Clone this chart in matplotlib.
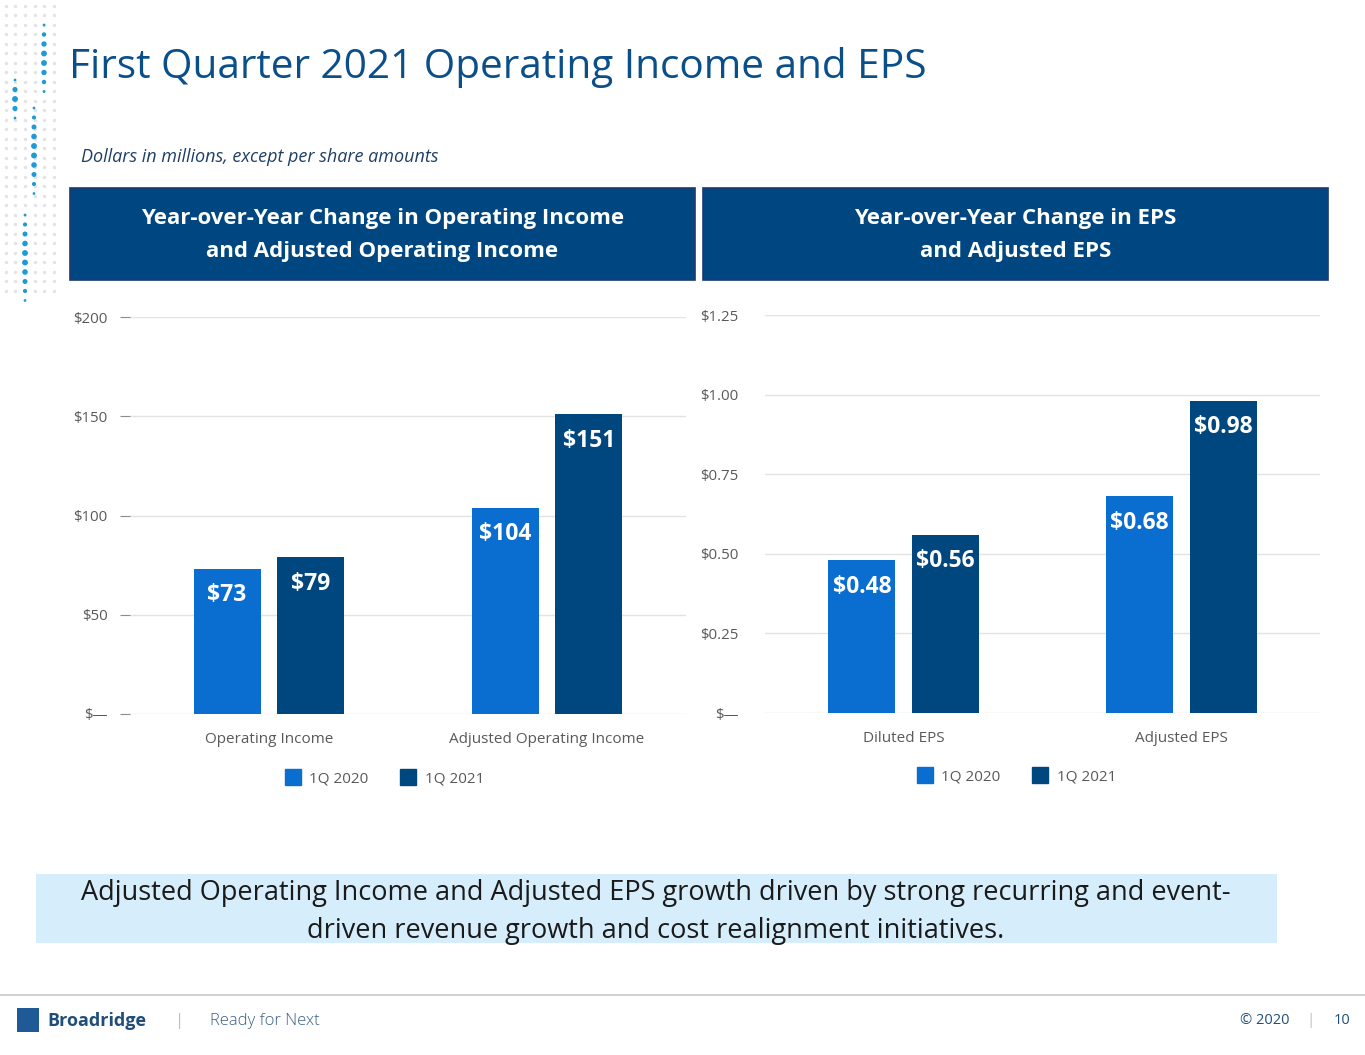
import numpy as np
import matplotlib
matplotlib.use("Agg")
import matplotlib.pyplot as plt
from matplotlib.patches import Rectangle
from matplotlib.lines import Line2D

plt.rcParams['font.family'] = ['Open Sans', 'DejaVu Sans']

# data
oi_categories = ['Operating Income', 'Adjusted Operating Income']
oi_2020 = [73, 104]
oi_2021 = [79, 151]
oi_ticks = [0, 50, 100, 150, 200]
oi_ticklabels = ['$\u2014', '$50', '$100', '$150', '$200']

eps_categories = ['Diluted EPS', 'Adjusted EPS']
eps_2020 = [0.48, 0.68]
eps_2021 = [0.56, 0.98]
eps_ticks = [0, 0.25, 0.5, 0.75, 1.0, 1.25]
eps_ticklabels = ['$\u2014', '$0.25', '$0.50', '$0.75', '$1.00', '$1.25']

series_names = ['1Q 2020', '1Q 2021']

c_light = '#0a6ed1'
c_dark = '#00467f'
navy = '#004680'
txt_gray = '#595959'

W, H = 1365, 1055
fig = plt.figure(figsize=(W / 100, H / 100), dpi=100)


def fx(px):
    return px / W


def fy(py):
    return 1 - py / H


# title + subtitle
fig.text(fx(69), fy(68), 'First Quarter 2021 Operating Income and EPS', fontsize=29.2,
         color='#0b4f8a', va='center', ha='left')
fig.text(fx(81), fy(157), 'Dollars in millions, except per share amounts', fontsize=13,
         style='italic', color='#1f3f66', va='center', ha='left')

# decorative dot columns top-left
dot_ax = fig.add_axes([0, fy(310), fx(62), fy(0) - fy(310)])
dot_ax.set_xlim(0, 62)
dot_ax.set_ylim(310, 0)
dot_ax.axis('off')
for x in [6, 15, 25, 35, 44, 54]:
    ys = np.arange(6, 300, 9.5)
    dot_ax.scatter(np.full(len(ys), x), ys, s=6, color='#e3e3e3', lw=0)
blue_cols = [(44, 25, 100), (15, 80, 120), (34, 108, 200), (25, 215, 310)]
for x, y0, y1 in blue_cols:
    ys = np.arange(y0, y1, 9.5)
    sizes = 4 + 14 * np.sin(np.linspace(0, np.pi, len(ys)))
    dot_ax.scatter(np.full(len(ys), x), ys, s=sizes, color='#1e9bd7', lw=0)

# header boxes
for (x0, x1), lines in [((70, 695), 'Year-over-Year Change in Operating Income\nand Adjusted Operating Income'),
                        ((703, 1328), 'Year-over-Year Change in EPS\nand Adjusted EPS')]:
    fig.patches.append(Rectangle((fx(x0), fy(280)), fx(x1 - x0), fy(188) - fy(280),
                                 transform=fig.transFigure, facecolor=navy,
                                 edgecolor='#1d3a6e', lw=1.2))
    fig.text(fx((x0 + x1) / 2), fy(235), lines, ha='center', va='center', color='white',
             fontsize=16, fontweight='bold', linespacing=1.8)


def bar_panel(rect, cats, v1, v2, ticks, ticklabels, fmt, show_ticks, leg_x, leg_y):
    ax = fig.add_axes(rect)
    x = np.arange(len(cats))
    off = 0.151
    w = 0.241
    b1 = ax.bar(x - off, v1, w, color=c_light, zorder=3)
    b2 = ax.bar(x + off, v2, w, color=c_dark, zorder=3)
    for bars, vals in [(b1, v1), (b2, v2)]:
        for b, v in zip(bars, vals):
            ax.annotate(fmt(v), (b.get_x() + b.get_width() / 2, v), xytext=(0, -19),
                        textcoords='offset points', ha='center', va='center',
                        color='white', fontsize=16.5, fontweight='bold', zorder=4)
    ax.set_xlim(-0.5, 1.5)
    ax.set_ylim(ticks[0], ticks[-1])
    ax.set_yticks(ticks)
    ax.set_yticklabels(ticklabels)
    ax.set_xticks(x)
    ax.set_xticklabels(cats)
    ax.grid(axis='y', color='#e3e3e3', lw=1, zorder=0)
    for s in ax.spines.values():
        s.set_visible(False)
    ax.tick_params(axis='x', length=0, pad=13, labelsize=11, labelcolor=txt_gray)
    if show_ticks:
        ax.tick_params(axis='y', length=7, color='#8c8c8c', pad=9, labelsize=10.8,
                       labelcolor=txt_gray)
    else:
        ax.tick_params(axis='y', length=0, pad=19, labelsize=10.8, labelcolor=txt_gray)
    handles = [Line2D([], [], marker='s', ls='', markersize=12, color=c)
               for c in (c_light, c_dark)]
    fig.legend(handles, series_names, loc='center', bbox_to_anchor=(fx(leg_x), fy(leg_y)),
               ncol=2, frameon=False, fontsize=11, labelcolor=txt_gray,
               handletextpad=0.5, columnspacing=2.0, handlelength=1.2)
    return ax


bar_panel([fx(130), fy(714), fx(556), fy(317) - fy(714)], oi_categories, oi_2020, oi_2021,
          oi_ticks, oi_ticklabels, lambda v: f'${v:.0f}', True, 384, 779)
bar_panel([fx(765), fy(713), fx(555), fy(315) - fy(713)], eps_categories, eps_2020, eps_2021,
          eps_ticks, eps_ticklabels, lambda v: f'${v:.2f}', False, 1016, 777)

# bottom banner
fig.patches.append(Rectangle((fx(36), fy(943)), fx(1241), fy(874) - fy(943),
                             transform=fig.transFigure, facecolor='#d6edfb', edgecolor='none'))
fig.text(fx(656), fy(912),
         'Adjusted Operating Income and Adjusted EPS growth driven by strong recurring and event-\n'
         'driven revenue growth and cost realignment initiatives.',
         ha='center', va='center', fontsize=19.5, color='#1a1a1a', linespacing=1.45)

# footer
fig.add_artist(Line2D([0, 1], [fy(995), fy(995)], color='#c8c8c8', lw=1.2,
                      transform=fig.transFigure))
fig.patches.append(Rectangle((fx(17), fy(1032)), fx(22), fy(1008) - fy(1032),
                             transform=fig.transFigure, facecolor='#1f5a96', edgecolor='none'))
fig.text(fx(47), fy(1021), 'Broadridge', fontsize=13, fontweight='bold', color='#1f4e79',
         va='center', ha='left')
fig.text(fx(175), fy(1021), '|', fontsize=12, color='#bdbdbd', va='center', ha='left')
fig.text(fx(210), fy(1021), 'Ready for Next', fontsize=12, color='#3b5f85', va='center',
         ha='left', fontweight='light')
fig.text(fx(1290), fy(1020), '\u00a9 2020', fontsize=10.5, color='#1f4e79', va='center',
         ha='right')
fig.text(fx(1311), fy(1020), '|', fontsize=11, color='#bdbdbd', va='center', ha='center')
fig.text(fx(1350), fy(1020), '10', fontsize=10.5, color='#1f4e79', va='center', ha='right')

fig.savefig('out.png', dpi=100)
